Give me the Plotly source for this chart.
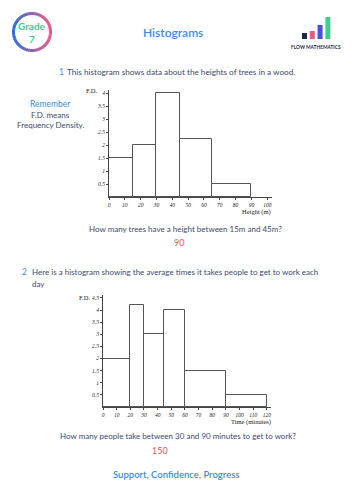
import numpy as np
import plotly.graph_objects as go

W, H = 353, 500

# ---- data ----
q1_edges = [0, 15, 30, 45, 65, 90]
q1_fd = [1.5, 2, 4, 2.25, 0.5]
q1_xticks = [0, 10, 20, 30, 40, 50, 60, 70, 80, 90, 100]
q1_yticks = [0.5, 1, 1.5, 2, 2.5, 3, 3.5, 4]

q2_edges = [0, 20, 30, 45, 60, 90, 120]
q2_fd = [2, 4.2, 3, 4, 1.5, 0.5]
q2_xticks = [0, 10, 20, 30, 40, 50, 60, 70, 80, 90, 100, 110, 120]
q2_yticks = [0.5, 1, 1.5, 2, 2.5, 3, 3.5, 4, 4.5]

logo_heights = [6, 8, 14, 22]
logo_colors = ["#1d2a4a", "#ef5b7e", "#4a4fe0", "#3ecf8e"]

SLATE = "#3d4a6e"
BLUE = "#3a8de4"
RED = "#e8595d"
GREEN = "#3ecf8e"
SANS = "Lato"
SERIF = "Liberation Serif"


def px(x):
    return x / W


def py(y):
    return 1 - y / H


def bars(edges, fd, xa, ya):
    mids = [(a + b) / 2 for a, b in zip(edges[:-1], edges[1:])]
    widths = [b - a for a, b in zip(edges[:-1], edges[1:])]
    return go.Bar(x=mids, y=fd, width=widths, xaxis=xa, yaxis=ya,
                  marker=dict(color="white", line=dict(color="#555", width=1)),
                  showlegend=False, hoverinfo="skip")


fig = go.Figure()
fig.add_trace(bars(q1_edges, q1_fd, "x", "y"))
fig.add_trace(bars(q2_edges, q2_fd, "x2", "y2"))

tickfont = dict(family=SERIF, size=5.5, color="#222", style="italic")
axcommon = dict(showgrid=False, zeroline=False, showline=True, linecolor="#444",
                linewidth=1, ticks="outside", ticklen=2, tickcolor="#444",
                tickfont=tickfont, fixedrange=True)

fig.update_layout(
    width=W, height=H, margin=dict(l=0, r=0, t=0, b=0),
    paper_bgcolor="white", plot_bgcolor="white", bargap=0,
    xaxis=dict(domain=[px(109), px(272)], range=[0, 103], tickvals=q1_xticks,
               anchor="y", **axcommon),
    yaxis=dict(domain=[py(197), py(90)], range=[0, 4.12], tickvals=q1_yticks,
               ticktext=[f"{v:g}" for v in q1_yticks], anchor="x", **axcommon),
    xaxis2=dict(domain=[px(103), px(271)], range=[0, 123], tickvals=q2_xticks,
                anchor="y2", **axcommon),
    yaxis2=dict(domain=[py(407), py(295)], range=[0, 4.62], tickvals=q2_yticks,
                ticktext=[f"{v:g}" for v in q2_yticks], anchor="x2", **axcommon),
)

ann = []


def A(text, x, y, size, color, xanchor="center", family=SANS, weight=None, style=None):
    f = dict(family=family, size=size, color=color)
    if weight:
        f["weight"] = weight
    if style:
        f["style"] = style
    ann.append(dict(text=text, x=px(x), y=py(y), xref="paper", yref="paper",
                    xanchor=xanchor, yanchor="middle", showarrow=False, font=f))


# header
A("Grade", 32, 26, 10, GREEN, weight=700)
A("7", 32, 39, 10, GREEN, weight=700)
A("Histograms", 173, 32, 12, BLUE, weight=600)
A("FLOW MATHEMATICS", 316, 47, 4.8, "#1d2a4a", weight=700)

# question 1
A("1", 57, 72, 8.5, BLUE, xanchor="left")
A("This histogram shows data about the heights of trees in a wood.", 65, 72, 8.2, SLATE, xanchor="left")
A("Remember", 50, 104, 8.5, BLUE)
A("F.D. means", 50, 115, 8, SLATE)
A("Frequency Density.", 50, 125, 8, SLATE)
A("F.D.", 99, 91, 6.5, "#222", xanchor="right", family=SERIF)
A("Height (m)", 273, 212, 6.5, "#222", xanchor="right", family=SERIF)
A("How many trees have a height between 15m and 45m?", 185, 229, 8, SLATE)
A("90", 179, 242, 9, RED)

# question 2
A("2", 20, 272, 8.5, BLUE, xanchor="left")
A("Here is a histogram showing the average times it takes people to get to work each", 30, 272, 8, SLATE, xanchor="left")
A("day", 30, 284, 8, SLATE, xanchor="left")
A("F.D.", 92, 297, 6.5, "#222", xanchor="right", family=SERIF)
A("Time (minutes)", 273, 422, 6.5, "#222", xanchor="right", family=SERIF)
A("How many people take between 30 and 90 minutes to get to work?", 178, 436, 8, SLATE)
A("150", 160, 450, 9, RED)

A("Support, Confidence, Progress", 176, 474, 9.5, BLUE, weight=600)

shapes = []
# grade ring: gradient blue (left) -> pink (right)
cx, cy, r = 32, 32, 18.5
c_left = np.array([47, 111, 224])
c_right = np.array([235, 90, 130])
n = 48
for i in range(n):
    a0 = 2 * np.pi * i / n
    a1 = 2 * np.pi * (i + 1) / n + 0.02
    am = (a0 + a1) / 2
    t = (np.cos(am) + 1) / 2  # 0 = left, 1 = right
    col = (c_left * (1 - t) + c_right * t).astype(int)
    pts = [(cx + r * np.cos(a), cy + r * np.sin(a)) for a in np.linspace(a0, a1, 4)]
    path = "M " + " L ".join(f"{px(x):.5f},{py(y):.5f}" for x, y in pts)
    shapes.append(dict(type="path", xref="paper", yref="paper", path=path,
                       line=dict(color=f"rgb({col[0]},{col[1]},{col[2]})", width=3)))

# logo bars
for i, (h, c) in enumerate(zip(logo_heights, logo_colors)):
    x0 = 302 + i * 7.8
    shapes.append(dict(type="rect", xref="paper", yref="paper",
                       x0=px(x0), x1=px(x0 + 5), y0=py(39), y1=py(39 - h),
                       fillcolor=c, line=dict(width=0)))

fig.update_layout(annotations=ann, shapes=shapes)
fig.write_html("out.html", config={"displayModeBar": False})
